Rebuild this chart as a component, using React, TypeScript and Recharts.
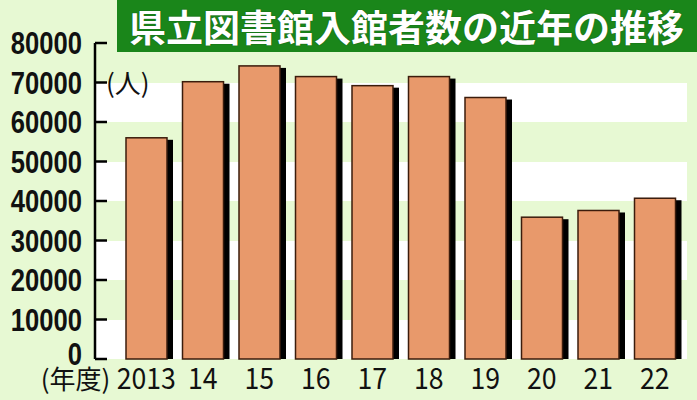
import { BarChart, Bar, XAxis, YAxis, CartesianGrid } from 'recharts';

const years = ['2013', '14', '15', '16', '17', '18', '19', '20', '21', '22'];
const visitors = [56000, 70200, 74200, 71500, 69200, 71500, 66200, 35900, 37600, 40700];
const yTicks = [0, 10000, 20000, 30000, 40000, 50000, 60000, 70000, 80000];

const data = years.map((year, i) => ({ year, visitors: visitors[i] }));

const BG = '#e7f9d3';
const BAR = '#e8996b';
const TITLE_GREEN = '#1a861a';
const JP = '"Noto Sans CJK JP", "Noto Sans", sans-serif';
const NUM = '"Liberation Sans", Arial, sans-serif';

function ShadowBar(props: any) {
  const { x, y, width, height } = props;
  if (!height) return null;
  return (
    <g>
      <rect x={x + width} y={y + 2} width={6} height={height - 2} fill="#000" />
      <rect x={x} y={y} width={width} height={height} fill={BAR} stroke="#3b1c0c" strokeWidth={1.5} />
    </g>
  );
}

function YTick({ x, y, payload }: any) {
  // the zero label sits a little above its tick so it clears the year caption
  const lift = payload.value === 0 ? 5 : 0;
  return (
    <g>
      <line x1={x + 13} x2={x + 25} y1={y} y2={y} stroke="#000" strokeWidth={2.5} />
      <text
        transform={`translate(${x},${y - lift}) scale(0.8,1)`}
        x={0}
        y={0}
        textAnchor="end"
        dominantBaseline="central"
        fontFamily={NUM}
        fontWeight="bold"
        fontSize={32}
        fill="#111"
      >
        {payload.value}
      </text>
    </g>
  );
}

function XTick({ x, y, payload, index }: any) {
  return (
    <g>
      {index === 0 && (
        <text x={x - 36} y={y + 30} textAnchor="end" fontFamily={JP} fontSize={26} fill="#111">
          (年度)
        </text>
      )}
      <text
        transform={`translate(${x},${y + 30}) scale(0.92,1)`}
        x={0}
        y={0}
        textAnchor="middle"
        fontFamily={JP}
        fontSize={29}
        fill="#111"
      >
        {payload.value}
      </text>
    </g>
  );
}

export default function App() {
  return (
    <div style={{ position: 'absolute', left: 0, top: 0, width: 697, height: 400, background: BG, overflow: 'hidden' }}>
      <BarChart width={697} height={400} data={data} margin={{ top: 43, right: 10, bottom: 0, left: 0 }}>
        <CartesianGrid vertical={false} stroke="none" strokeOpacity={0} horizontalFill={[BG, '#ffffff']} fillOpacity={1} />
        <XAxis
          dataKey="year"
          height={41}
          axisLine={false}
          tickLine={false}
          tickSize={0}
          tickMargin={0}
          padding={{ left: 23, right: 4 }}
          tick={<XTick />}
          interval={0}
        />
        <YAxis
          width={95}
          domain={[0, 80000]}
          ticks={yTicks}
          interval={0}
          axisLine={{ stroke: '#000', strokeWidth: 2.5 }}
          tickLine={false}
          tickSize={0}
          tickMargin={13}
          tick={<YTick />}
        />
        <Bar dataKey="visitors" barSize={41} shape={<ShadowBar />} isAnimationActive={false} />
      </BarChart>
      <div
        style={{
          position: 'absolute',
          left: 117,
          top: 0,
          width: 580,
          height: 52,
          background: TITLE_GREEN,
          color: '#fff',
          fontFamily: JP,
          fontWeight: 'bold',
          fontSize: 37,
          lineHeight: '52px',
          paddingLeft: 12,
          boxSizing: 'border-box',
          whiteSpace: 'nowrap',
          textShadow: '0 0 1px #0a3a0a',
        }}
      >
        県立図書館入館者数の近年の推移
      </div>
      <div style={{ position: 'absolute', left: 106, top: 64, fontFamily: JP, fontSize: 26, color: '#111', lineHeight: '36px' }}>
        (人)
      </div>
    </div>
  );
}
